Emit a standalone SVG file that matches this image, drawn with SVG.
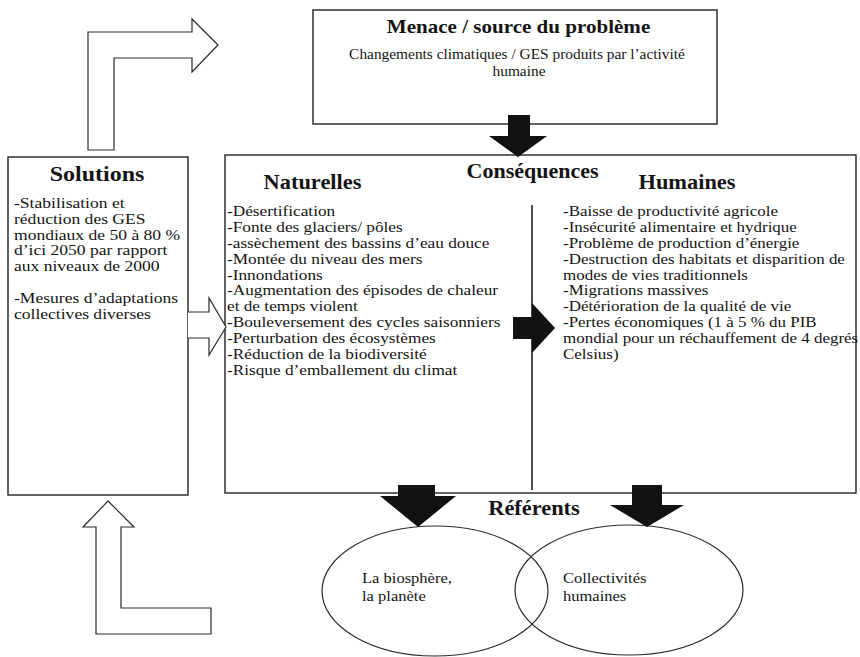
<svg xmlns="http://www.w3.org/2000/svg" width="860" height="657" viewBox="0 0 860 657">
  <style>
    .box { fill: #ffffff; stroke: #222222; stroke-width: 1.4; }
    .hollow { fill: #ffffff; stroke: #2a2a2a; stroke-width: 1.2; stroke-linejoin: miter; }
    .solid { fill: #111111; stroke: none; }
    .ring { fill: none; stroke: #2a2a2a; stroke-width: 1.2; }
    .rule { stroke: #111111; stroke-width: 1.5; }
    text { font-family: "Liberation Serif", "Times New Roman", serif; fill: #141414; }
    .title { font-size: 20px; font-weight: bold; text-anchor: middle; }
    .head { font-size: 18px; font-weight: bold; text-anchor: middle; }
    .body { font-size: 15px; }
    .small { font-size: 13.8px; text-anchor: middle; }
    .label { font-size: 14.5px; }
  </style>

  <rect width="860" height="657" fill="#ffffff"/>

  <!-- Threat / source box -->
  <g id="menace">
    <rect class="box" x="313" y="10" width="404" height="114"/>
    <text class="head" transform="translate(518.5 33) scale(1.17 1)">Menace / source du problème</text>
    <text class="small" transform="translate(517 59) scale(1.115 1)">Changements climatiques / GES produits par l’activité</text>
    <text class="small" transform="translate(519 76) scale(1.115 1)">humaine</text>
  </g>

  <!-- Solutions box -->
  <g id="solutions">
    <rect class="box" x="8" y="157" width="180" height="338"/>
    <text class="title" transform="translate(97 181) scale(1.2 1)">Solutions</text>
    <text class="body" transform="translate(14 208) scale(1.17 1)">
      <tspan x="0" y="0">-Stabilisation et</tspan>
      <tspan x="0" dy="15.8">réduction des GES</tspan>
      <tspan x="0" dy="15.8">mondiaux de 50 à 80 %</tspan>
      <tspan x="0" dy="15.8">d’ici 2050 par rapport</tspan>
      <tspan x="0" dy="15.8">aux niveaux de 2000</tspan>
      <tspan x="0" dy="31.6">-Mesures d’adaptations</tspan>
      <tspan x="0" dy="15.8">collectives diverses</tspan>
    </text>
  </g>

  <!-- Consequences box with natural and human columns -->
  <g id="consequences">
    <rect class="box" x="225" y="155" width="631" height="338"/>
    <text class="title" transform="translate(532.5 178) scale(1.1 1)">Conséquences</text>
    <line class="rule" x1="532" y1="205" x2="532" y2="490"/>
  </g>

  <g id="naturelles">
    <text class="title" transform="translate(312.5 189) scale(1.12 1)">Naturelles</text>
    <text class="body" transform="translate(227 216) scale(1.15 1)">
      <tspan x="0" y="0">-Désertification</tspan>
      <tspan x="0" dy="15.9">-Fonte des glaciers/ pôles</tspan>
      <tspan x="0" dy="15.9">-assèchement des bassins d’eau douce</tspan>
      <tspan x="0" dy="15.9">-Montée du niveau des mers</tspan>
      <tspan x="0" dy="15.9">-Innondations</tspan>
      <tspan x="0" dy="15.9">-Augmentation des épisodes de chaleur</tspan>
      <tspan x="0" dy="15.9">et de temps violent</tspan>
      <tspan x="0" dy="15.9">-Bouleversement des cycles saisonniers</tspan>
      <tspan x="0" dy="15.9">-Perturbation des écosystèmes</tspan>
      <tspan x="0" dy="15.9">-Réduction de la biodiversité</tspan>
      <tspan x="0" dy="15.9">-Risque d’emballement du climat</tspan>
    </text>
  </g>

  <g id="humaines">
    <text class="title" transform="translate(687 189) scale(1.12 1)">Humaines</text>
    <text class="body" transform="translate(563 216) scale(1.13 1)">
      <tspan x="0" y="0">-Baisse de productivité agricole</tspan>
      <tspan x="0" dy="15.9">-Insécurité alimentaire et hydrique</tspan>
      <tspan x="0" dy="15.9">-Problème de production d’énergie</tspan>
      <tspan x="0" dy="15.9">-Destruction des habitats et disparition de</tspan>
      <tspan x="0" dy="15.9">modes de vies traditionnels</tspan>
      <tspan x="0" dy="15.9">-Migrations massives</tspan>
      <tspan x="0" dy="15.9">-Détérioration de la qualité de vie</tspan>
      <tspan x="0" dy="15.9">-Pertes économiques (1 à 5 % du PIB</tspan>
      <tspan x="0" dy="15.9">mondial pour un réchauffement de 4 degrés</tspan>
      <tspan x="0" dy="15.9">Celsius)</tspan>
    </text>
  </g>

  <!-- Referents: two overlapping circles -->
  <g id="referents">
    <text class="title" transform="translate(534 515) scale(1.12 1)">Référents</text>
  </g>

  <g id="biosphere">
    <ellipse class="ring" cx="435" cy="591" rx="113" ry="65"/>
    <text class="label" transform="translate(362 583) scale(1.14 1)">
      <tspan x="0" y="0">La biosphère,</tspan>
      <tspan x="0" dy="18">la planète</tspan>
    </text>
  </g>

  <g id="collectivites">
    <ellipse class="ring" cx="629" cy="590" rx="114" ry="65"/>
    <text class="label" transform="translate(563 583) scale(1.14 1)">
      <tspan x="0" y="0">Collectivités</tspan>
      <tspan x="0" dy="18">humaines</tspan>
    </text>
  </g>

  <!-- Connectors: block arrows -->
  <g id="connectors">
    <!-- solutions back up to the threat -->
    <path class="hollow" d="M88,150 L88,32 L192,32 L192,19 L218,45 L192,72 L192,58 L114,58 L114,150 Z"/>
    <!-- referents back up to solutions -->
    <path class="hollow" d="M108,501 L134,527 L121,527 L121,608 L211,608 L211,634 L96,634 L96,527 L83,527 Z"/>
    <!-- solutions into consequences -->
    <path class="hollow" d="M188,312 L209,312 L209,298 L226,327 L209,355 L209,338 L188,338"/>
    <!-- threat down to consequences -->
    <path class="solid" d="M508,115 L530,115 L530,136 L547,136 L518,157 L489,136 L508,136 Z"/>
    <!-- natural to human consequences -->
    <path class="solid" d="M513,317 L532,317 L532,303 L555,328 L532,353 L532,339 L513,339 Z"/>
    <!-- consequences down to each referent -->
    <path class="solid" d="M398,485 L435,485 L435,496 L456,496 L418,527 L380,496 L398,496 Z"/>
    <path class="solid" d="M632,485 L662,485 L662,505 L684,505 L647,527 L610,505 L632,505 Z"/>
  </g>
</svg>
